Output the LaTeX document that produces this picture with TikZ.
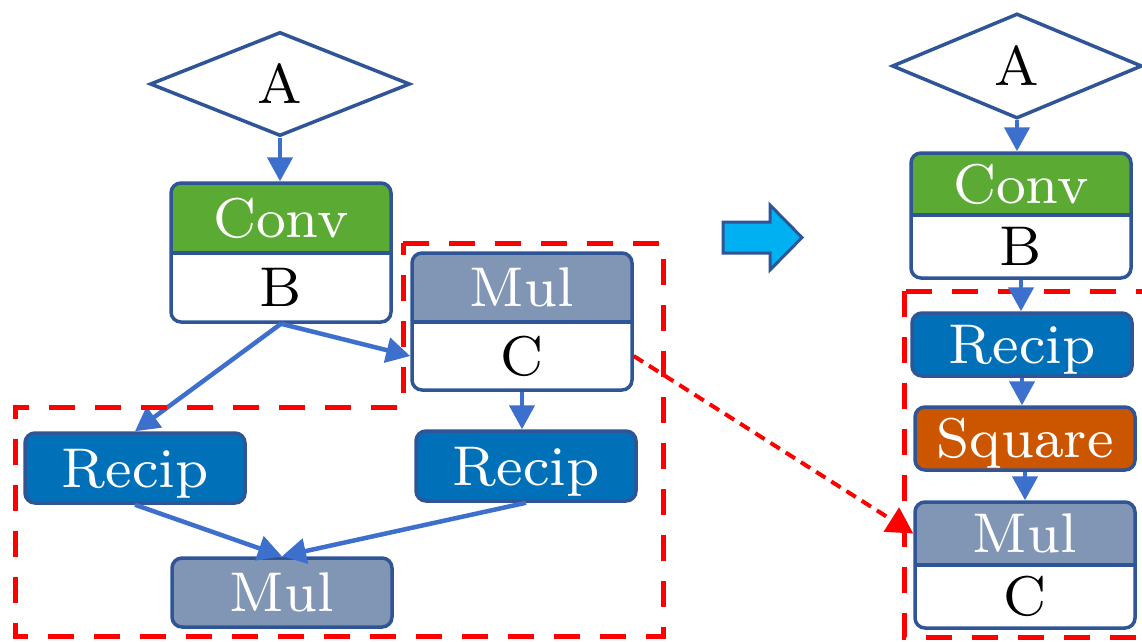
\documentclass[tikz,border=0pt]{standalone}
\usepackage{fontspec}
\newfontfamily\lmeight{lmroman8-regular.otf}
\usetikzlibrary{shapes.geometric,arrows.meta}
\definecolor{convgreen}{RGB}{90,170,51}
\definecolor{recipblue}{RGB}{0,112,184}
\definecolor{mulgray}{RGB}{128,150,180}
\definecolor{sqorange}{RGB}{204,85,0}
\definecolor{bordercol}{RGB}{47,85,151}
\definecolor{arrowblue}{RGB}{61,112,204}
\definecolor{skyfill}{RGB}{0,176,240}
\newcommand\bigf{\lmeight\fontsize{56}{60}\selectfont}
\newcommand\twobox[9]{%
  \fill[white, rounded corners=10pt] (#2,#3) rectangle (#4,#6);
  \begin{scope}
    \clip (#2-5,#3-5) rectangle (#4+5,#5);
    \fill[#7, rounded corners=10pt] (#2,#3) rectangle (#4,#6);
  \end{scope}
  \draw[bordercol, line width=3.5pt] (#2,#5) -- (#4,#5);
  \node[frame, minimum width=#4pt-#2pt, minimum height=#6pt-#3pt] (#1) at ({(#2+#4)/2},{(#3+#6)/2}) {};
  \node[lbl, text=white] (#1t) at ({(#2+#4)/2},{(#3+#5)/2}) {#8};
  \node[lbl, text=black] (#1b) at ({(#2+#4)/2},{(#5+#6)/2}) {#9};
}
\begin{document}
\begin{tikzpicture}[x=1pt, y=-1pt,
  lbl/.style={font=\bigf, inner sep=0pt, text height=38pt, text depth=0pt},
  frame/.style={draw=bordercol, line width=3.5pt, rounded corners=10pt, inner sep=0pt},
  opbox/.style={frame, lbl, text=white, minimum width=220pt},
  dia/.style={diamond, draw=bordercol, line width=3.5pt, fill=white, inner sep=0pt,
    font=\bigf, text height=38pt, text depth=0pt},
  flow/.style={draw=arrowblue, line width=4.5pt, -{Triangle[length=24pt,width=25pt]}},
  region/.style={draw=red, line width=5pt, dash pattern=on 26pt off 20pt},
  redarrow/.style={draw=red, line width=4pt, dash pattern=on 11pt off 7pt,
    -{Triangle[length=26pt,width=28pt]}}
]
\clip (0,0) rectangle (1142,641);
\fill[white] (0,0) rectangle (1142,641);

% ---------- left graph ----------
\node[dia, minimum width=260pt, minimum height=104pt] (a1) at (280,84) {A};
\twobox{cb}{171}{183}{391}{253}{322}{convgreen}{Conv}{B}
\twobox{mc}{412}{253}{632}{322}{390}{mulgray}{Mul}{C}
\node[opbox, fill=recipblue, minimum height=70pt] (recipL) at (135,468) {Recip};
\node[opbox, fill=recipblue, minimum height=70pt] (recipR) at (526,466) {Recip};
\node[opbox, fill=mulgray, minimum height=69pt] (mulB) at (282,592.5) {Mul};

\draw[flow] (a1.south) -- (a1.south |- cb.north);
\draw[flow] (cb.south) -- (recipL.north);
\draw[flow] (cb.south) -- (mc.west |- mcb);
\draw[flow] (mc.south) -- (mc.south |- recipR.north);
\draw[flow] (recipL.south) -- (mulB.north);
\draw[flow] (recipR.south) -- (mulB.north);

\draw[region] (403,243) -- (663,243) -- (663,636) -- (15,636) -- (15,407) -- (403,407) -- cycle;

% ---------- block arrow ----------
\draw[bordercol, line width=3pt, fill=skyfill, line join=miter]
  (723,222) -- (770,222) -- (770,205) -- (802,237.5) -- (770,270) -- (770,253) -- (723,253) -- cycle;

% ---------- right graph ----------
\node[dia, minimum width=250pt, minimum height=105pt] (a2) at (1017,66) {A};
\twobox{cb2}{911}{153}{1131}{215}{278}{convgreen}{Conv}{B}
\node[opbox, fill=recipblue, minimum height=63pt] (recip2) at (1022,344.5) {Recip};
\node[opbox, fill=sqorange, minimum height=63pt] (square) at (1025,438.5) {Square};
\twobox{mc2}{915}{502}{1135}{565}{628}{mulgray}{Mul}{C}

\draw[region] (904,291) rectangle (1170,637);

\draw[flow] (a2.south) -- (a2.south |- cb2.north);
\draw[flow] (cb2.south) -- (cb2.south |- recip2.north);
\draw[flow] (recip2.south) -- (recip2.south |- square.north);
\draw[flow] (square.south) -- (square.south |- mc2.north);

\draw[redarrow] (mc.east |- mcb) -- (mc2.west |- mc2t);
\end{tikzpicture}
\end{document}
